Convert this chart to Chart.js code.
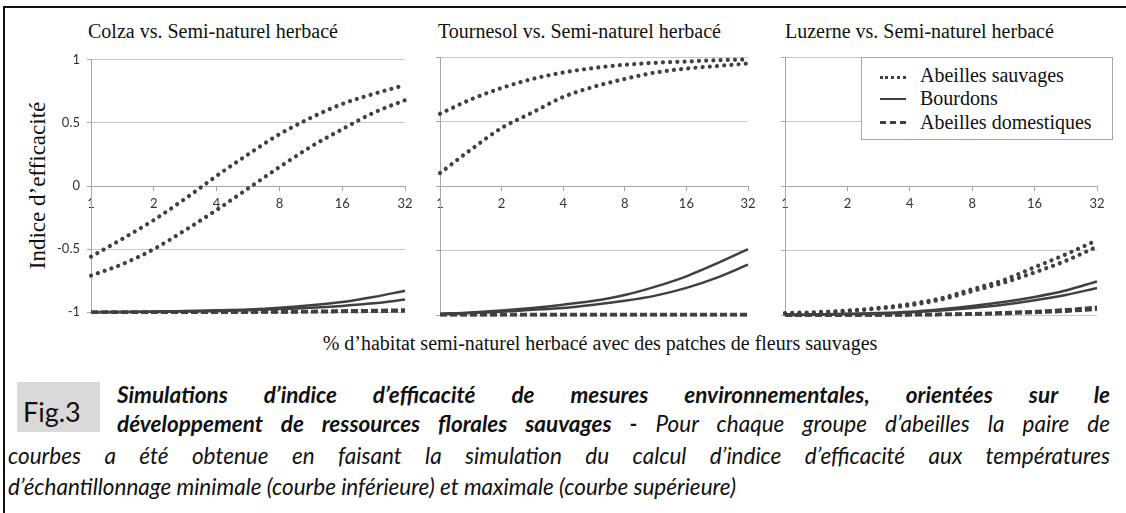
<!DOCTYPE html>
<html>
<head>
<meta charset="utf-8">
<script src="https://cdn.jsdelivr.net/npm/chart.js"></script>
<style>
body { margin: 0; background: #fff; width: 1126px; height: 513px; overflow: hidden; position: relative; font-family: "Liberation Serif", serif; color: #111; }
.frame-top { position: absolute; left: 3px; top: 6px; width: 1123px; height: 2px; background: #111; }
.frame-left { position: absolute; left: 3px; top: 6px; width: 2px; height: 507px; background: #111; }
canvas { position: absolute; }
.title { position: absolute; top: 21px; font-size: 20px; line-height: 20px; white-space: nowrap; }
.ytitle { position: absolute; left: 37px; top: 185px; width: 300px; height: 23px; margin-left: -150px; margin-top: -11.5px; font-size: 23px; line-height: 23px; text-align: center; transform: rotate(-90deg); white-space: nowrap; }
.xtitle { position: absolute; left: 300px; width: 600px; top: 333px; font-size: 20px; line-height: 20px; text-align: center; white-space: nowrap; }
.legend { position: absolute; left: 861px; top: 57px; width: 252px; height: 83px; box-sizing: border-box; border: 1.5px solid #a6a6a6; background: #fff; }
.lg-row { position: absolute; left: 58px; font-size: 20px; line-height: 20px; white-space: nowrap; }
.lg-line { position: absolute; left: 18px; width: 26px; height: 0; }
.figbox { position: absolute; left: 17px; top: 382px; width: 83px; height: 50px; background: #d9d9d9; }
.figtxt { position: absolute; left: 23px; top: 398px; font-family: Lato, sans-serif; font-size: 27px; line-height: 27px; color: #111; }
.cap { position: absolute; font-family: Lato, sans-serif; font-style: italic; font-size: 22.5px; line-height: 29px; text-align: justify; text-align-last: justify; color: #111; }
.cap.last { text-align-last: left; white-space: nowrap; }
</style>
</head>
<body>
<div class="frame-top"></div>
<div class="frame-left"></div>

<div class="title" style="left:88px">Colza vs. Semi-naturel herbacé</div>
<div class="title" style="left:438px">Tournesol vs. Semi-naturel herbacé</div>
<div class="title" style="left:785px">Luzerne vs. Semi-naturel herbacé</div>
<div class="ytitle">Indice d’efficacité</div>

<canvas id="colza" width="370" height="282" style="left:50px;top:45px"></canvas>
<canvas id="tournesol" width="343" height="282" style="left:420px;top:45px"></canvas>
<canvas id="luzerne" width="347" height="282" style="left:765px;top:45px"></canvas>

<div class="legend">
  <div class="lg-line" style="top:18px;border-top:3px dotted #404040"></div>
  <div class="lg-row" style="top:7px">Abeilles sauvages</div>
  <div class="lg-line" style="top:40px;border-top:2.5px solid #404040"></div>
  <div class="lg-row" style="top:30px">Bourdons</div>
  <div class="lg-line" style="top:63px;border-top:3px dashed #404040"></div>
  <div class="lg-row" style="top:54px">Abeilles domestiques</div>
</div>

<div class="xtitle">% d’habitat semi-naturel herbacé avec des patches de fleurs sauvages</div>

<div class="figbox"></div>
<div class="figtxt">Fig.3</div>
<div class="cap" style="left:117px;top:380px;width:993px"><b>Simulations d’indice d’efficacité de mesures environnementales, orientées sur le</b></div>
<div class="cap" style="left:117px;top:409px;width:993px"><b>développement de ressources florales sauvages -</b> Pour chaque groupe d’abeilles la paire de</div>
<div class="cap" style="left:8px;top:441px;width:1102px">courbes a été obtenue en faisant la simulation du calcul d’indice d’efficacité aux températures</div>
<div class="cap last" style="left:8px;top:472px">d’échantillonnage minimale (courbe inférieure) et maximale (courbe supérieure)</div>

<script>
// % habitat (log2 axis) and tick labels
const habitat = [1, 1.41, 2, 2.83, 4, 5.66, 8, 11.3, 16, 22.6, 32];
const xTicks = [1, 2, 4, 8, 16, 32];

// Colza
const colzaSauvMax = [-0.56, -0.42, -0.27, -0.10, 0.08, 0.25, 0.41, 0.54, 0.65, 0.73, 0.80];
const colzaSauvMin = [-0.71, -0.62, -0.50, -0.35, -0.19, -0.02, 0.15, 0.31, 0.45, 0.58, 0.68];
const colzaBourMax = [-1.0, -0.998, -0.995, -0.99, -0.985, -0.978, -0.965, -0.945, -0.92, -0.88, -0.83];
const colzaBourMin = [-1.0, -0.999, -0.998, -0.995, -0.99, -0.985, -0.975, -0.965, -0.95, -0.93, -0.90];
const colzaDomMax = [-1.0, -1.0, -1.0, -1.0, -0.999, -0.998, -0.996, -0.994, -0.99, -0.987, -0.983];
const colzaDomMin = [-1.0, -1.0, -1.0, -1.0, -1.0, -0.999, -0.998, -0.997, -0.995, -0.993, -0.99];

// Tournesol
const tourSauvMax = [0.56, 0.67, 0.76, 0.83, 0.88, 0.915, 0.94, 0.955, 0.965, 0.975, 0.98];
const tourSauvMin = [0.10, 0.28, 0.45, 0.57, 0.69, 0.77, 0.83, 0.88, 0.91, 0.93, 0.95];
const tourBourMax = [-0.99, -0.98, -0.965, -0.945, -0.92, -0.89, -0.845, -0.78, -0.70, -0.60, -0.49];
const tourBourMin = [-0.995, -0.985, -0.975, -0.96, -0.945, -0.92, -0.89, -0.85, -0.79, -0.71, -0.61];
const tourDomMax = [-0.997, -0.997, -0.997, -0.997, -0.997, -0.997, -0.997, -0.997, -0.997, -0.997, -0.997];
const tourDomMin = [-0.999, -0.999, -0.999, -0.999, -0.999, -0.999, -0.999, -0.999, -0.999, -0.999, -0.999];

// Luzerne
const luzSauvMax = [-0.985, -0.978, -0.965, -0.945, -0.915, -0.87, -0.80, -0.73, -0.63, -0.53, -0.42];
const luzSauvMin = [-0.99, -0.982, -0.97, -0.95, -0.925, -0.88, -0.815, -0.75, -0.67, -0.58, -0.47];
const luzBourMax = [-1.0, -0.997, -0.99, -0.985, -0.975, -0.955, -0.93, -0.90, -0.86, -0.81, -0.74];
const luzBourMin = [-1.0, -0.998, -0.993, -0.99, -0.98, -0.965, -0.945, -0.92, -0.885, -0.845, -0.79];
const luzDomMax = [-1.0, -1.0, -1.0, -0.999, -0.997, -0.995, -0.99, -0.983, -0.973, -0.96, -0.94];
const luzDomMin = [-1.0, -1.0, -1.0, -1.0, -0.999, -0.997, -0.993, -0.988, -0.98, -0.97, -0.955];

const lineColor = "#404040";

Chart.defaults.font.family = "Lato";
Chart.defaults.font.size = 13;
Chart.defaults.color = "#333";

function curve(values, style) {
  var ds = {
    data: values.map(function (v, i) { return { x: habitat[i], y: v }; }),
    borderColor: lineColor,
    pointRadius: 0,
    cubicInterpolationMode: "monotone",
    fill: false,
    clip: 8
  };
  if (style == "dot") {
    ds.borderWidth = 4.2;
    ds.borderDash = [0.01, 7.2];
    ds.borderCapStyle = "round";
  } else if (style == "dash") {
    ds.borderWidth = 3.5;
    ds.borderDash = [7, 3];
  } else {
    ds.borderWidth = 2.5;
  }
  return ds;
}

function panel(id, sets, showLabels, yWidth) {
  new Chart(id, {
    type: "line",
    data: {
      datasets: [
        curve(sets[4], "dash"), curve(sets[5], "dash"),
        curve(sets[2], "solid"), curve(sets[3], "solid"),
        curve(sets[0], "dot"), curve(sets[1], "dot")
      ]
    },
    options: {
      responsive: false,
      animation: false,
      devicePixelRatio: 1,
      layout: { padding: { left: 0, right: 15, top: 12, bottom: 12 } },
      plugins: { legend: { display: false }, tooltip: { enabled: false } },
      scales: {
        x: {
          type: "logarithmic",
          min: 1,
          max: 32,
          position: { y: 0 },
          afterBuildTicks: function (axis) {
            axis.ticks = xTicks.map(function (v) { return { value: v }; });
          },
          ticks: {
            padding: 6,
            maxRotation: 0,
            autoSkip: false,
            callback: function (v) { return String(v); }
          },
          grid: { drawOnChartArea: false, tickLength: 4, tickColor: "#a6a6a6" },
          border: { color: "#a6a6a6" }
        },
        y: {
          min: -1,
          max: 1,
          afterFit: function (axis) { axis.width = yWidth; },
          ticks: {
            stepSize: 0.5,
            display: showLabels,
            padding: 7,
            callback: function (v) { return String(v); }
          },
          grid: { color: "#c8c8c8", tickLength: 4, tickColor: "#a6a6a6" },
          border: { color: "#a6a6a6" }
        }
      }
    }
  });
}

panel("colza", [colzaSauvMax, colzaSauvMin, colzaBourMax, colzaBourMin, colzaDomMax, colzaDomMin], true, 41);
panel("tournesol", [tourSauvMax, tourSauvMin, tourBourMax, tourBourMin, tourDomMax, tourDomMin], false, 20);
panel("luzerne", [luzSauvMax, luzSauvMin, luzBourMax, luzBourMin, luzDomMax, luzDomMin], false, 20);
</script>
</body>
</html>
